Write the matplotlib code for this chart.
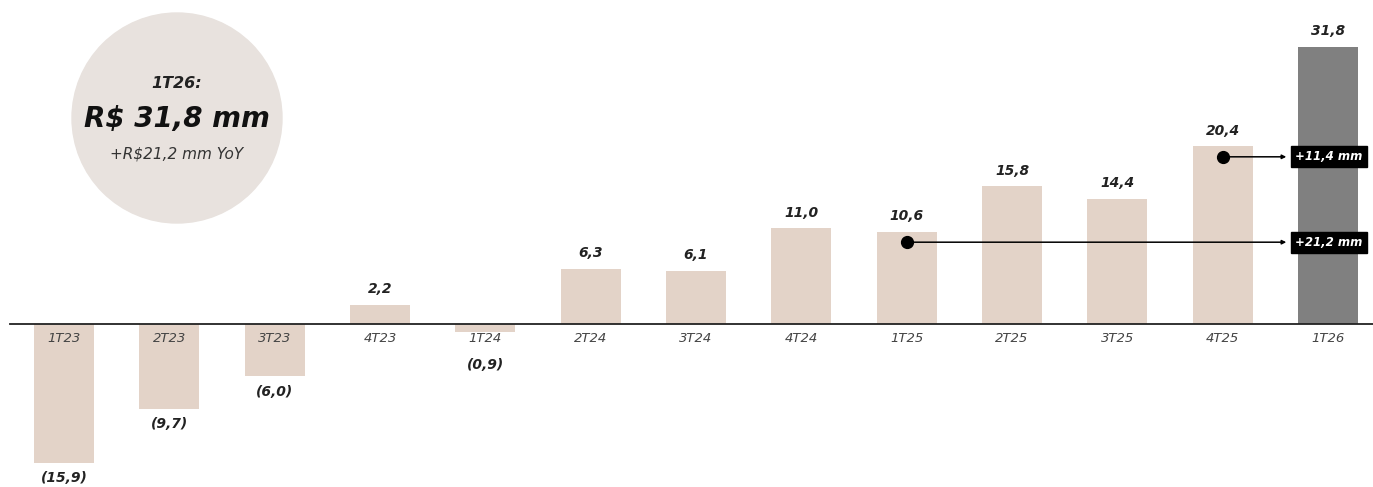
import matplotlib
matplotlib.use("Agg")
import matplotlib.pyplot as plt
from matplotlib.patches import Ellipse

categories = ["1T23", "2T23", "3T23", "4T23", "1T24", "2T24", "3T24",
              "4T24", "1T25", "2T25", "3T25", "4T25", "1T26"]
values = [-15.9, -9.7, -6.0, 2.2, -0.9, 6.3, 6.1, 11.0, 10.6, 15.8, 14.4, 20.4, 31.8]
value_labels = ["(15,9)", "(9,7)", "(6,0)", "2,2", "(0,9)", "6,3", "6,1",
                "11,0", "10,6", "15,8", "14,4", "20,4", "31,8"]
deltas = [("4T25", "+11,4 mm"), ("1T25", "+21,2 mm")]

plt.rcParams['font.family'] = ['DejaVu Sans']

W, H = 1373, 487
fig = plt.figure(figsize=(W / 100, H / 100), dpi=100)
ax = fig.add_axes([0, 0, 1, 1])
xmin, xmax = -0.608, 12.427
ymin, ymax = -18.7, 37.2
ax.set_xlim(xmin, xmax)
ax.set_ylim(ymin, ymax)
ax.axis('off')

beige = "#e3d3c8"
gray = "#808080"
colors = [beige] * (len(values) - 1) + [gray]
x = list(range(len(categories)))
ax.bar(x, values, width=0.57, color=colors, zorder=2)
ax.axhline(0, color="#222222", lw=1.3, xmin=(-0.51 - xmin) / (xmax - xmin), xmax=1, zorder=3)

for xi, v, lab, cat in zip(x, values, value_labels, categories):
    if v >= 0:
        ax.text(xi, v + 1.0, lab, ha='center', va='bottom', fontsize=10,
                fontweight='bold', fontstyle='italic', color="#222222")
    else:
        ax.text(xi, min(v - 1.0, -3.9), lab, ha='center', va='top', fontsize=10,
                fontweight='bold', fontstyle='italic', color="#222222")
    ax.text(xi, -0.9, cat, ha='center', va='top', fontsize=9.5,
            fontstyle='italic', color="#444444", zorder=4)

# delta annotations
last = len(values) - 1
for cat, txt in deltas:
    i = categories.index(cat)
    yv = values[i] - 1.2
    ax.plot([i], [yv], 'o', color='black', ms=8.5, zorder=5)
    ax.annotate("", xy=(last - 0.37, yv), xytext=(i, yv),
                arrowprops=dict(arrowstyle='-|>', color='black', lw=1.1,
                                mutation_scale=6), zorder=5)
    ax.text(last + 0.01, yv, txt, ha='center', va='center', fontsize=8.5,
            fontweight='bold', fontstyle='italic', color='white', zorder=6,
            bbox=dict(boxstyle='square,pad=0.35', fc='black', ec='black'))

# circle callout
px2x = (xmax - xmin) / W
px2y = (ymax - ymin) / H
cx = xmin + 177 * px2x
cy = ymax - 118 * px2y
circ = Ellipse((cx, cy), 210 * px2x, 210 * px2y, color="#e8e2de", zorder=1)
ax.add_patch(circ)
ax.text(cx, ymax - 84 * px2y, "1T26:", ha='center', va='center', fontsize=11.5,
        fontweight='bold', fontstyle='italic', color="#222222")
ax.text(cx, ymax - 119 * px2y, "R$ 31,8 mm", ha='center', va='center', fontsize=20,
        fontweight='bold', fontstyle='italic', color="#111111")
ax.text(cx, ymax - 154 * px2y, "+R$21,2 mm YoY", ha='center', va='center', fontsize=11,
        fontstyle='italic', color="#333333")

fig.savefig("out.png", dpi=100)
